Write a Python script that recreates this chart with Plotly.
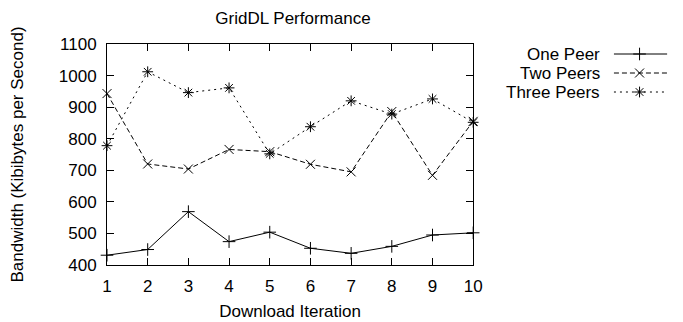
import plotly.graph_objects as go

iterations = [1, 2, 3, 4, 5, 6, 7, 8, 9, 10]
one_peer = [431, 449, 569, 474, 504, 453, 437, 459, 495, 502]
two_peers = [943, 720, 704, 766, 759, 719, 695, 886, 684, 855]
three_peers = [778, 1012, 946, 961, 752, 838, 920, 878, 926, 852]
series_names = ["One Peer", "Two Peers", "Three Peers"]
y_ticks = [400, 500, 600, 700, 800, 900, 1000, 1100]

W, H = 683, 322
L, R, T, B = 107, 0, 44, 57
plot_w = W - L - R
main_right_px = 479
FONT = "Liberation Sans, Arial, Helvetica, sans-serif"
FS = 17

styles = [
    dict(dash="solid", symbol="cross-thin-open"),
    dict(dash="5px,3px", symbol="x-thin-open"),
    dict(dash="2px,4px", symbol="asterisk-open"),
]
data = [one_peer, two_peers, three_peers]

fig = go.Figure()
for name, ys, st in zip(series_names, data, styles):
    fig.add_trace(go.Scatter(
        x=iterations, y=ys, name=name, mode="lines+markers",
        line=dict(color="black", width=1, dash=st["dash"]),
        marker=dict(symbol=st["symbol"], size=9, color="black",
                    line=dict(color="black", width=1)),
        showlegend=False, xaxis="x", yaxis="y", cliponaxis=False,
    ))

# custom gnuplot-style legend (text left, sample right) on a pixel-scaled overlay axis
leg_rows_px = [54, 73, 92]
leg_text_right = 610
leg_line = (622, 676)
leg_mark = 648
for name, st, py in zip(series_names, styles, leg_rows_px):
    fig.add_trace(go.Scatter(
        x=[leg_line[0], leg_line[1]], y=[py, py], mode="lines",
        line=dict(color="black", width=1, dash=st["dash"]),
        xaxis="x2", yaxis="y2", showlegend=False, hoverinfo="skip"))
    fig.add_trace(go.Scatter(
        x=[leg_mark], y=[py], mode="markers",
        marker=dict(symbol=st["symbol"], size=9, color="black",
                    line=dict(color="black", width=1)),
        xaxis="x2", yaxis="y2", showlegend=False, hoverinfo="skip"))
    fig.add_annotation(x=leg_text_right, y=py, xref="x2", yref="y2",
                       text=name, showarrow=False, xanchor="right",
                       yanchor="middle", font=dict(size=FS, color="black", family=FONT))

axis_common = dict(
    showline=True, linecolor="black", linewidth=1, mirror="ticks",
    ticks="inside", ticklen=7, tickcolor="black", tickwidth=1,
    showgrid=False, zeroline=False,
    tickfont=dict(size=FS, color="black", family=FONT),
)

fig.update_layout(
    width=W, height=H,
    margin=dict(l=L, r=R, t=T, b=B),
    paper_bgcolor="white", plot_bgcolor="rgba(0,0,0,0)",
    font=dict(family=FONT, color="black", size=FS),
    title=dict(text="GridDL Performance", x=(L + main_right_px) / 2 / W,
               xanchor="center", y=1 - 18 / H, yanchor="middle",
               font=dict(size=FS, color="black", family=FONT)),
    xaxis=dict(axis_common, domain=[0, (main_right_px - L) / plot_w],
               range=[1, 10], tickvals=iterations, ticklabelstandoff=6,
               title=dict(text="Download Iteration", standoff=9,
                          font=dict(size=FS, color="black", family=FONT))),
    yaxis=dict(axis_common, range=[400, 1100], tickvals=y_ticks,
               ticklabelstandoff=6,
               title=dict(text="Bandwidth (Kibibytes per Second)", standoff=30,
                          font=dict(size=FS, color="black", family=FONT))),
    xaxis2=dict(domain=[0, 1], range=[L, W - R], visible=False, anchor="y2"),
    yaxis2=dict(domain=[0, 1], range=[H - B, T], visible=False, anchor="x2"),
    showlegend=False,
)

fig.write_html("out.html")
